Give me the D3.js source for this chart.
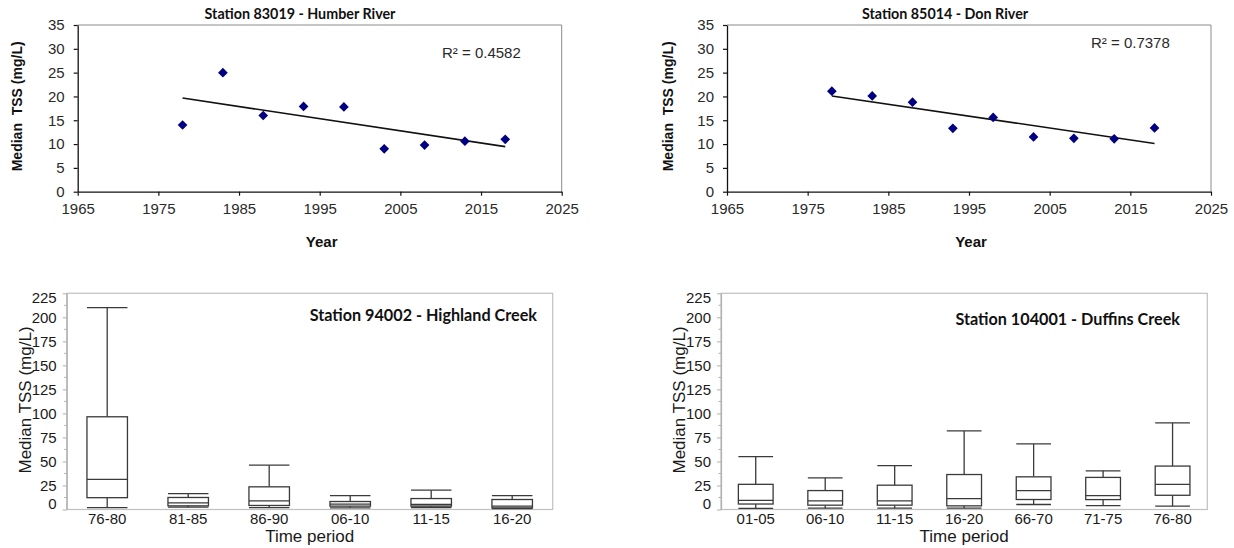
<!DOCTYPE html>
<html>
<head>
<meta charset="utf-8">
<script src="https://cdn.jsdelivr.net/npm/d3@7"></script>
<style>
  html, body { margin: 0; padding: 0; background: #fff; }
  svg { display: block; }
  text { white-space: pre; }
</style>
</head>
<body>
<svg id="chart" width="1234" height="548"></svg>
<script>
// ---- Annual median TSS (scatter panels) ----
const years = [1978, 1983, 1988, 1993, 1998, 2003, 2008, 2013, 2018];
const humberTSS = [14.0, 25.0, 16.0, 17.9, 17.8, 9.0, 9.8, 10.6, 11.0];
const donTSS = [21.1, 20.1, 18.8, 13.3, 15.6, 11.5, 11.2, 11.1, 13.4];
const humberR2 = "R² = 0.4582";
const donR2 = "R² = 0.7378";
const yearTicks = [1965, 1975, 1985, 1995, 2005, 2015, 2025];
const scatterTicks = [0, 5, 10, 15, 20, 25, 30, 35];

// ---- Box plots by time period ----
const highlandPeriods = ["76-80", "81-85", "86-90", "06-10", "11-15", "16-20"];
const highlandMin = [1.9, 2.4, 2.0, 1.7, 2.1, 1.0];
const highlandQ1 = [12.3, 3.8, 4.2, 3.5, 3.5, 1.7];
const highlandMedian = [31.4, 6.9, 9.0, 5.5, 5.2, 3.5];
const highlandQ3 = [96.5, 12.5, 23.6, 8.3, 11.4, 10.4];
const highlandMax = [210, 16.6, 46.1, 14.5, 20.1, 14.5];

const duffinsPeriods = ["01-05", "06-10", "11-15", "16-20", "66-70", "71-75", "76-80"];
const duffinsMin = [1.2, 1.4, 1.4, 1.4, 5.2, 4.0, 3.5];
const duffinsQ1 = [5.7, 4.5, 4.5, 3.8, 10.4, 10.3, 14.8];
const duffinsMedian = [9.5, 9.0, 9.0, 11.4, 19.7, 14.5, 26.1];
const duffinsQ3 = [26.2, 19.7, 25.3, 36.4, 34.0, 33.4, 45.2];
const duffinsMax = [55, 33, 45.7, 81.8, 68.2, 40.2, 90.1];
const boxTicks = [0, 25, 50, 75, 100, 125, 150, 175, 200, 225];

const svg = d3.select("#chart");
const SANS = "Arial, 'Liberation Sans', sans-serif";
const TITLE = "Lato, 'Open Sans', sans-serif";

// Linear least-squares fit
function fit(xs, ys) {
  const n = xs.length;
  const mx = d3.mean(xs), my = d3.mean(ys);
  let sxy = 0, sxx = 0;
  for (let i = 0; i < n; i++) { sxy += (xs[i] - mx) * (ys[i] - my); sxx += (xs[i] - mx) ** 2; }
  const b = sxy / sxx;
  return x => my + b * (x - mx);
}

function scatterPanel(o) {
  const g = svg.append("g");
  const x = d3.scaleLinear().domain([1965, 2025]).range([o.left, o.right]);
  const y = d3.scaleLinear().domain([0, 35]).range([o.bottom, o.top]);

  // frame: light top/right edges
  g.append("path")
    .attr("d", `M${o.left},${o.top}H${o.right}V${o.bottom}`)
    .attr("fill", "none").attr("stroke", "#8c8c8c").attr("stroke-width", 1);

  const xa = g.append("g").attr("transform", `translate(0,${o.bottom})`)
    .call(d3.axisBottom(x).tickValues(yearTicks).tickFormat(d3.format("d")).tickSizeInner(4).tickSizeOuter(0).tickPadding(6));
  const ya = g.append("g").attr("transform", `translate(${o.left},0)`)
    .call(d3.axisLeft(y).tickValues(scatterTicks).tickSizeInner(4).tickSizeOuter(0).tickPadding(9));
  [xa, ya].forEach(a => {
    a.select(".domain").attr("stroke", "#111").attr("stroke-width", 1.3);
    a.selectAll(".tick line").attr("stroke", "#111").attr("stroke-width", 1.2);
    a.selectAll("text").attr("font-family", SANS).attr("font-size", 15).attr("fill", "#2a2a2a");
  });
  xa.selectAll("text").attr("dy", "0.85em");

  // trend line
  const f = fit(years, o.values);
  const x0 = d3.min(years), x1 = d3.max(years);
  g.append("line")
    .attr("x1", x(x0)).attr("y1", y(f(x0)))
    .attr("x2", x(x1)).attr("y2", y(f(x1)))
    .attr("stroke", "#111").attr("stroke-width", 1.6);

  // diamond markers
  g.selectAll("path.pt").data(years).join("path").attr("class", "pt")
    .attr("d", d3.symbol(d3.symbolDiamond2, 60))
    .attr("transform", (d, i) => `translate(${x(d)},${y(o.values[i])})`)
    .attr("fill", "#000080");

  g.append("text").attr("x", o.titleX).attr("y", 13)
    .attr("text-anchor", "middle").attr("dominant-baseline", "central")
    .attr("font-family", TITLE).attr("font-weight", 700).attr("font-size", 14.3)
    .attr("fill", "#111").text(o.title);
  g.append("text").attr("x", o.r2x).attr("y", o.r2y)
    .attr("dominant-baseline", "central")
    .attr("font-family", SANS).attr("font-size", 15).attr("fill", "#2a2a2a").text(o.r2);
  g.append("text").attr("x", (o.left + o.right) / 2 + 2).attr("y", 241.5)
    .attr("text-anchor", "middle").attr("dominant-baseline", "central")
    .attr("font-family", SANS).attr("font-weight", 700).attr("font-size", 15)
    .attr("fill", "#111").text("Year");
  g.append("text")
    .attr("transform", `translate(${o.labelX},${(o.top + o.bottom) / 2 - 2}) rotate(-90)`)
    .attr("text-anchor", "middle").attr("dominant-baseline", "central")
    .attr("font-family", SANS).attr("font-weight", 700).attr("font-size", 14)
    .attr("fill", "#111").text("Median  TSS (mg/L)");
}

function boxPanel(o) {
  const g = svg.append("g");
  const x = d3.scaleBand().domain(o.periods).range([o.left, o.right]).padding(0);
  const y = d3.scaleLinear().domain([0, 225]).range([o.bottom, o.top]);
  const bw = x.bandwidth() * 0.5;

  g.append("rect").attr("x", o.left).attr("y", o.top)
    .attr("width", o.right - o.left).attr("height", o.bottom - o.top)
    .attr("fill", "none").attr("stroke", "#c0c0c0").attr("stroke-width", 1.2);

  // minor ticks on value axis
  g.selectAll("line.minor").data(d3.range(12.5, 225, 25)).join("line").attr("class", "minor")
    .attr("x1", o.left - 2.5).attr("x2", o.left)
    .attr("y1", d => y(d)).attr("y2", d => y(d))
    .attr("stroke", "#b0b0b0").attr("stroke-width", 1);

  const ya = g.append("g").attr("transform", `translate(${o.left},0)`)
    .call(d3.axisLeft(y).tickValues(boxTicks).tickSizeInner(4).tickSizeOuter(0).tickPadding(6));
  ya.select(".domain").attr("stroke", "#b0b0b0").attr("stroke-width", 1.2);
  ya.selectAll(".tick line").attr("stroke", "#b0b0b0");
  ya.selectAll("text").attr("font-family", SANS).attr("font-size", 15).attr("fill", "#1a1a1a")
    .attr("dy", d => d === 0 ? "-0.05em" : d === 225 ? "0.58em" : "0.32em");

  const xa = g.append("g").attr("transform", `translate(0,${o.bottom})`)
    .call(d3.axisBottom(x).tickSize(0).tickPadding(4));
  xa.select(".domain").remove();
  xa.selectAll("text").attr("font-family", SANS).attr("font-size", 15).attr("fill", "#1a1a1a")
    .attr("dy", "0.71em");

  const stroke = "#3a3a3a", sw = 1.3;
  o.periods.forEach((p, i) => {
    const cx = x(p) + x.bandwidth() / 2;
    const b = g.append("g");
    b.append("line").attr("x1", cx).attr("x2", cx).attr("y1", y(o.max[i])).attr("y2", y(o.q3[i]))
      .attr("stroke", stroke).attr("stroke-width", sw);
    b.append("line").attr("x1", cx).attr("x2", cx).attr("y1", y(o.q1[i])).attr("y2", y(o.min[i]))
      .attr("stroke", stroke).attr("stroke-width", sw);
    [o.max[i], o.min[i]].forEach(v => {
      b.append("line").attr("x1", cx - bw / 2).attr("x2", cx + bw / 2).attr("y1", y(v)).attr("y2", y(v))
        .attr("stroke", stroke).attr("stroke-width", sw);
    });
    b.append("rect").attr("x", cx - bw / 2).attr("y", y(o.q3[i]))
      .attr("width", bw).attr("height", y(o.q1[i]) - y(o.q3[i]))
      .attr("fill", "#fff").attr("stroke", stroke).attr("stroke-width", sw);
    b.append("line").attr("x1", cx - bw / 2).attr("x2", cx + bw / 2)
      .attr("y1", y(o.median[i])).attr("y2", y(o.median[i]))
      .attr("stroke", stroke).attr("stroke-width", sw);
  });

  g.append("text").attr("x", o.titleX).attr("y", o.titleY)
    .attr("text-anchor", "end").attr("dominant-baseline", "central")
    .attr("font-family", TITLE).attr("font-weight", 700).attr("font-size", 16.2)
    .attr("fill", "#111").text(o.title);
  g.append("text").attr("x", (o.left + o.right) / 2).attr("y", 536.5)
    .attr("text-anchor", "middle").attr("dominant-baseline", "central")
    .attr("font-family", SANS).attr("font-size", 17).attr("fill", "#1a1a1a").text("Time period");
  g.append("text")
    .attr("transform", `translate(${o.labelX},400) rotate(-90)`)
    .attr("text-anchor", "middle").attr("dominant-baseline", "central")
    .attr("font-family", SANS).attr("font-size", 17).attr("fill", "#1a1a1a").text("Median TSS (mg/L)");
}

scatterPanel({ left: 77.7, right: 561.7, top: 25, bottom: 191.7, values: humberTSS,
  title: "Station 83019 - Humber River", titleX: 300, r2: humberR2, r2x: 442, r2y: 52, labelX: 16.7 });
scatterPanel({ left: 727, right: 1211, top: 25, bottom: 191.7, values: donTSS,
  title: "Station 85014 - Don River", titleX: 945, r2: donR2, r2x: 1091, r2y: 42.7, labelX: 668 });

boxPanel({ left: 66.7, right: 552.7, top: 293.3, bottom: 509.5, periods: highlandPeriods,
  min: highlandMin, q1: highlandQ1, median: highlandMedian, q3: highlandQ3, max: highlandMax,
  title: "Station 94002 - Highland Creek", titleX: 537, titleY: 314, labelX: 25 });
boxPanel({ left: 721, right: 1207.3, top: 293.3, bottom: 509.5, periods: duffinsPeriods,
  min: duffinsMin, q1: duffinsQ1, median: duffinsMedian, q3: duffinsQ3, max: duffinsMax,
  title: "Station 104001 - Duffins Creek", titleX: 1180, titleY: 318, labelX: 679 });
</script>
</body>
</html>
